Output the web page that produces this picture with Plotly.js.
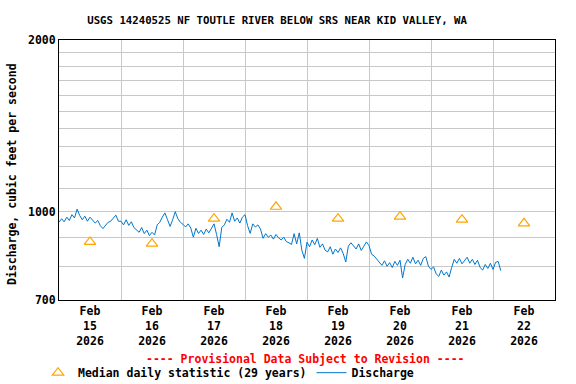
<!DOCTYPE html>
<html>
<head>
<meta charset="utf-8">
<script src="https://cdn.plot.ly/plotly-3.0.1.min.js"></script>
<style>
  html, body { margin: 0; padding: 0; background: #fff; }
  #chart { width: 576px; height: 384px; }
</style>
</head>
<body>
<div id="chart"></div>
<script>
// ---- Data ----
const titleText = "USGS 14240525 NF TOUTLE RIVER BELOW SRS NEAR KID VALLEY, WA";
const seriesStart = "2026-02-15 00:00";   // first discharge reading, hourly afterwards
// Hourly discharge, cfs (Feb 15 00:00 -> Feb 22 03:00)
const discharge = [
  958, 972, 960, 978, 965, 988, 975, 1010, 985, 968, 982, 962,
  978, 965, 955, 965, 945, 934, 946, 958, 962, 972, 986, 962,
  962, 948, 968, 946, 960, 938, 928, 920, 938, 915, 928, 908,
  920, 910, 948, 958, 978, 995, 968, 942, 968, 1000, 972, 958,
  950, 940, 952, 936, 902, 935, 916, 928, 912, 932, 918, 938,
  952, 912, 868, 938, 948, 970, 958, 995, 962, 975, 955, 978,
  988, 945, 916, 952, 940, 948, 932, 898, 915, 902, 910, 895,
  912, 900, 892, 902, 886, 882, 876, 915, 878, 918, 856, 828,
  884, 868, 892, 875, 898, 866, 878, 856, 850, 868, 842, 860,
  848, 864, 845, 816, 870, 882, 870, 860, 878, 855, 870, 885,
  872, 842, 836, 825, 816, 805, 820, 802, 814, 798, 818, 805,
  822, 765, 808, 825, 812, 832, 810, 822, 805, 828, 834, 802,
  792, 800, 778, 770, 790, 774, 784, 768, 798, 825, 812, 828,
  810, 820, 832, 812, 825, 808, 822, 798, 790, 808, 795, 812,
  792, 815, 818, 788
];
const medianDates = ["2026-02-15 12:00", "2026-02-16 12:00", "2026-02-17 12:00", "2026-02-18 12:00",
                     "2026-02-19 12:00", "2026-02-20 12:00", "2026-02-21 12:00", "2026-02-22 12:00"];
const medianValues = [885, 879, 972, 1020, 972, 980, 968, 954];
const tickDates = medianDates;
const tickLabels = ["Feb<br>15<br>2026", "Feb<br>16<br>2026", "Feb<br>17<br>2026", "Feb<br>18<br>2026",
                    "Feb<br>19<br>2026", "Feb<br>20<br>2026", "Feb<br>21<br>2026", "Feb<br>22<br>2026"];
const yTickVals = [700, 800, 900, 1000, 1100, 1200, 1300, 1400, 1500, 1600, 1700, 1800, 1900, 2000];
const yTickText = ["700", "", "", "1000", "", "", "", "", "", "", "", "", "", "2000"];
const xRange = ["2026-02-15 00:00", "2026-02-23 00:00"];
const yRange = [700, 2000];

// ---- Build times for the hourly series ----
function fmt(d) { return d.toISOString().slice(0, 16).replace("T", " "); }
const t0 = new Date(seriesStart.replace(" ", "T") + ":00Z").getTime();
const dischargeTimes = discharge.map((_, i) => fmt(new Date(t0 + i * 3600000)));

const FONT = "'DejaVu Sans Mono', 'Liberation Mono', monospace";
const BOLD = { family: FONT, size: 11.5, color: "#000", weight: "bold" };

const traces = [
  {
    x: medianDates, y: medianValues, type: "scatter", mode: "markers",
    name: "Median daily statistic (29 years)",
    marker: { symbol: "triangle-up-open", size: 10, color: "#FFA500", line: { color: "#FFA500", width: 1.2 } }
  },
  {
    x: dischargeTimes, y: discharge, type: "scatter", mode: "lines",
    name: "Discharge",
    line: { color: "#0077cc", width: 1 }
  }
];

const layout = {
  width: 576, height: 384,
  margin: { l: 59, r: 21, t: 40, b: 84, pad: 0, autoexpand: false },
  paper_bgcolor: "#fff", plot_bgcolor: "#fff",
  showlegend: true,
  title: {
    text: titleText, font: { family: FONT, size: 10.7, color: "#000", weight: "bold" },
    xref: "container", x: 0.481, xanchor: "center",
    yref: "container", y: 1 - 20 / 384, yanchor: "middle"
  },
  xaxis: {
    type: "date", range: xRange, fixedrange: true, automargin: false,
    tickmode: "array", tickvals: tickDates, ticktext: tickLabels,
    ticks: "", showgrid: false, zeroline: false,
    tickfont: BOLD,
    showline: true, linecolor: "#000", linewidth: 1, mirror: true,
    minor: { tickmode: "linear", tick0: "2026-02-15 00:00", dtick: 86400000, showgrid: true, gridcolor: "#c8c8c8", gridwidth: 1, ticks: "" }
  },
  yaxis: {
    type: "log", range: [Math.log10(yRange[0]), Math.log10(yRange[1])], fixedrange: true, automargin: false,
    tickmode: "array", tickvals: yTickVals, ticktext: yTickText,
    ticks: "", showgrid: true, gridcolor: "#c8c8c8", gridwidth: 1, zeroline: false,
    tickfont: BOLD,
    showline: true, linecolor: "#000", linewidth: 1, mirror: true
  },
  legend: {
    orientation: "h", xref: "container", x: 38 / 576, xanchor: "left",
    yref: "container", y: 1 - 372.7 / 384, yanchor: "middle",
    font: BOLD, bgcolor: "rgba(0,0,0,0)", borderwidth: 0,
    traceorder: "normal"
  },
  annotations: [
    {
      text: "Discharge, cubic feet per second", textangle: -90,
      xref: "paper", x: (12 - 59) / 496, xanchor: "center",
      yref: "paper", y: (300 - 174) / 260, yanchor: "middle",
      showarrow: false, font: BOLD
    },
    {
      text: "---- Provisional Data Subject to Revision ----",
      xref: "paper", x: (305.5 - 59) / 496, xanchor: "center",
      yref: "paper", y: (300 - 359) / 260, yanchor: "middle",
      showarrow: false, font: { family: FONT, size: 11.5, color: "#ff0000", weight: "bold" }
    }
  ]
};

Plotly.newPlot("chart", traces, layout, { staticPlot: true, displayModeBar: false });
</script>
</body>
</html>
